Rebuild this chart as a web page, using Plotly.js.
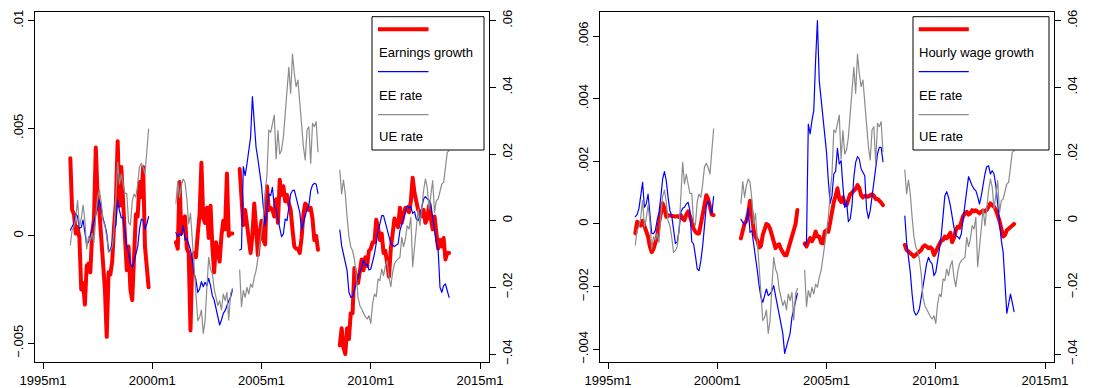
<!DOCTYPE html>
<html><head><meta charset="utf-8">
<script src="https://cdn.plot.ly/plotly-3.0.1.min.js"></script>
<style>html,body{margin:0;padding:0;background:#fff}#chart{width:1101px;height:388px}
#chart .scatterlayer .js-line{stroke-linejoin:round;stroke-linecap:round}</style>
</head><body><div id="chart"></div>
<script>
// ---- data (growth values in thousandths, rates in thousandths) ----
const segStarts = ["1996m4", "2001m2", "2004m1", "2008m8"];
const tickMonths = ["1995m1", "2000m1", "2005m1", "2010m1", "2015m1"];

// Left panel: earnings growth
const earnGrowth1 = [3.6,1.2,1.0,0.1,0.4,-0.1,-2.5,-2.2,-3.2,-1.4,-1.3,-1.7,0.1,0.8,4.1,1.8,1.1,0.0,-1.1,-2.5,-4.7,-1.7,-1.8,-1.2,0.4,1.5,4.4,1.4,3.2,1.3,-0.3,-1.6,-0.5,-2.5,-3.0,-0.5,1.0,0.9,2.5,1.8,3.2,-0.5,-1.5,-2.4];
const earnGrowth2 = [-0.3,-0.6,2.5,0.1,0.8,0.9,-0.6,-0.8,-4.4,-1.0,-0.8,-1.0,0.1,1.0,3.4,0.8,0.6,1.3,-0.1,1.4,-0.5,-1.7,-0.3,-0.7,-1.2,0.0,0.7,0.3,2.9,0.0,0.1,0.1];
const earnGrowth3 = [3.1,1.4,0.5,1.2,0.6,-0.2,-0.8,0.0,1.5,0.4,-0.9,0.1,0.7,-0.2,-0.4,2.3,1.2,1.3,1.2,0.9,1.7,0.6,2.6,1.9,2.3,1.6,1.9,1.5,1.2,0.3,-0.5,-0.6,-0.6,-0.8,-0.1,1.0,1.5,1.4,1.2,1.3,0.8,-0.2,0.0,-0.65];
const earnGrowth4 = [-5.1,-4.3,-5.2,-5.5,-4.3,-4.8,-3.6,-3.6,-1.5,-2.1,-2.2,-1.7,-1.1,-1.6,-1.0,-1.4,-0.7,-0.6,-0.3,-0.3,0.75,0.4,-0.2,0.1,-0.8,-0.7,-1.4,-1.9,-0.6,0.0,0.8,0.6,0.4,1.3,0.6,1.0,1.3,1.2,1.1,1.6,2.7,2.0,1.6,1.2,1.1,0.9,1.2,0.6,0.8,1.4,0.8,0.3,0.9,0.1,-0.6,-0.2,-0.5,-0.1,-1.1,-0.8,-0.8];

// Left panel: EE rate
const eeLeft1 = [-2.8,-2.0,-0.8,2.2,1.2,-2.3,-2.0,0.2,-4.5,-7.3,-6.3,-4.5,-2.5,-0.3,1.8,4.5,6.2,3.5,0.5,-1.2,-3.8,-9.0,-8.8,-6.8,-2.6,-1.5,6.2,3.0,0.8,1.0,-3.8,-7.7,-9.5,-13.0,-14.0,-11.5,-10.0,-7.8,-2.5,0.5,0.0,-2.5,-1.0,1.2];
const eeLeft2 = [-3.6,-4.8,-4.0,-4.5,-1.5,-5.8,-5.3,-6.8,-8.8,-11.8,-15.8,-17.8,-21.5,-20.5,-18.3,-19.8,-18.5,-19.5,-17.3,-19.5,-22.5,-23.8,-26.3,-29.5,-31.3,-29.8,-27.8,-27.0,-25.3,-24.0,-23.0,-20.8];
const eeLeft3 = [-8.8,-8.5,16.2,13.5,17.0,21.0,25.0,37.2,29.0,22.0,18.5,14.5,10.5,4.0,-1.5,3.0,8.0,7.5,10.0,4.2,3.5,0.5,-2.0,-4.8,-4.0,0.5,0.0,5.0,8.0,9.0,9.2,7.0,5.0,2.5,-2.8,-0.8,1.0,3.5,4.5,9.0,10.7,11.2,11.0,8.2];
const eeLeft4 = [-2.8,-7.5,-10.0,-12.5,-15.0,-21.5,-23.0,-22.8,-20.5,-19.0,-17.0,-15.5,-14.0,-11.8,-13.3,-13.0,-14.8,-14.5,-12.5,-10.0,-6.8,-2.8,-1.0,1.5,1.5,-0.5,-2.8,-4.8,-6.8,-7.3,-7.8,-7.3,-7.0,-3.0,-1.0,1.0,3.0,4.5,3.8,4.2,2.2,2.7,0.5,0.0,1.5,4.0,6.5,7.2,6.5,6.2,5.0,1.0,-3.5,-6.5,-8.8,-20.0,-21.5,-19.5,-19.0,-21.5,-23.0];

// UE rate (same in both panels)
const ueRate1 = [-7.3,-2.8,-1.8,1.0,6.0,-1.8,0.5,4.7,0.0,-8.5,-4.8,-5.8,-3.8,-6.5,1.5,7.2,9.2,5.5,0.0,-1.5,-5.0,-9.5,-9.0,-7.8,-3.0,6.0,17.5,11.0,14.0,11.0,8.2,8.2,-0.5,-1.3,5.8,8.0,7.0,11.0,16.2,17.2,16.0,14.0,20.0,27.5];
const ueRate2 = [5.2,11.7,7.0,10.5,12.5,11.5,6.5,-1.0,2.2,-6.0,-13.0,-22.0,-30.0,-29.0,-26.8,-33.8,-30.0,-20.0,-11.0,-14.5,-16.0,-20.5,-23.0,-25.5,-24.0,-26.8,-22.0,-24.0,-21.5,-29.8,-22.0,-20.3];
const ueRate3 = [-14.8,-25.8,-21.0,-23.0,-20.0,-22.0,-19.0,-20.0,-17.0,-15.0,-11.3,-7.0,-3.0,1.0,8.0,14.0,27.2,26.5,29.0,31.7,18.5,27.0,20.0,21.2,25.0,33.0,38.7,46.0,38.2,50.0,44.2,40.2,42.2,36.0,27.5,22.2,18.2,27.2,28.2,17.2,29.2,28.2,29.7,20.7];
const ueRate4 = [15.2,8.0,12.2,8.0,1.0,-4.8,-7.8,-9.0,-11.5,-16.0,-23.0,-25.5,-26.5,-27.8,-28.8,-29.5,-28.5,-30.8,-25.0,-22.0,-22.8,-17.5,-18.0,-14.5,-16.5,-13.5,-12.0,-17.0,-19.8,-15.5,-13.0,-12.0,-11.5,-11.0,-5.0,-7.8,-5.5,-1.5,-2.5,1.0,-13.8,-7.8,-1.0,3.5,-1.5,5.0,9.0,12.5,10.0,3.5,8.0,12.0,2.5,6.0,6.5,9.0,11.0,11.5,17.0,20.5,21.0];

// Right panel: hourly wage growth
const wageGrowth1 = [-0.30,0.07,0.0,-0.05,0.10,-0.07,-0.18,-0.40,-0.72,-0.90,-0.80,-0.55,-0.40,0.02,0.35,0.66,0.50,0.23,0.28,0.28,0.28,0.25,0.24,0.25,0.22,0.28,0.17,0.12,0.30,0.40,0.25,0.02,-0.14,-0.25,-0.30,-0.30,-0.05,0.30,0.60,0.92,0.80,0.55,0.30,0.28];
const wageGrowth2 = [-0.46,-0.15,0.02,0.10,0.35,0.74,0.20,-0.20,-0.40,-0.52,-0.75,-0.70,-0.35,-0.12,0.0,-0.03,-0.15,-0.35,-0.55,-0.77,-0.68,-0.65,-0.80,-0.90,-1.0,-1.0,-0.80,-0.55,-0.38,-0.25,0.0,0.45];
const wageGrowth3 = [-0.62,-0.72,-0.57,-0.45,-0.55,-0.45,-0.24,-0.40,-0.40,-0.60,-0.62,-0.25,-0.20,-0.25,0.05,0.45,0.70,0.90,1.14,0.80,0.70,0.85,0.65,0.60,0.80,0.95,1.00,1.05,1.12,1.24,1.15,0.92,0.85,0.90,0.87,0.87,0.92,0.95,0.90,0.80,0.80,0.75,0.68,0.60];
const wageGrowth4 = [-0.67,-0.83,-0.88,-0.92,-0.98,-1.04,-0.99,-0.94,-0.92,-0.83,-0.73,-0.68,-0.72,-0.77,-0.74,-0.80,-0.99,-0.88,-0.72,-0.60,-0.53,-0.51,-0.40,-0.46,-0.36,-0.28,-0.58,-0.45,-0.20,-0.09,-0.12,0.10,0.25,0.34,0.39,0.30,0.34,0.44,0.40,0.44,0.40,0.34,0.39,0.43,0.40,0.45,0.55,0.66,0.60,0.55,0.45,0.30,0.10,-0.15,-0.40,-0.35,-0.20,-0.15,-0.10,-0.05,0.0];

// Right panel: EE rate
const eeRight1 = [1.2,1.8,3.7,8.0,11.5,4.0,5.0,8.0,2.0,-3.8,-3.9,-3.0,0.2,2.5,7.0,12.5,14.7,12.0,7.0,3.0,1.5,-3.5,-6.8,-6.5,-3.0,2.5,3.7,4.0,5.0,5.5,3.0,-6.3,-7.0,-10.5,-14.5,-15.0,-12.0,-7.5,-2.0,4.5,6.0,4.5,2.0,7.2];
const eeRight2 = [0.4,-0.3,-1.3,-0.5,3.7,-3.5,-3.0,-7.0,-10.5,-15.0,-19.5,-23.0,-24.5,-22.0,-20.5,-22.5,-22.0,-21.0,-19.5,-22.5,-25.5,-28.0,-31.0,-33.8,-39.8,-38.0,-35.5,-33.8,-29.0,-26.5,-24.5,-21.8];
const eeRight3 = [-7.3,-6.5,29.0,26.0,30.0,33.0,48.0,60.0,42.0,36.5,31.7,26.5,20.5,12.0,5.2,7.5,14.0,14.8,21.7,17.0,18.0,10.5,4.0,5.7,-0.3,0.5,4.5,13.0,17.5,19.2,18.5,15.5,14.5,13.5,3.5,0.7,3.0,7.0,11.0,14.5,20.0,22.0,22.0,17.7];
const eeRight4 = [1.4,-6.5,-11.0,-15.5,-22.0,-27.0,-28.3,-27.8,-26.5,-23.0,-18.5,-15.5,-12.8,-11.0,-12.3,-13.0,-16.5,-15.5,-12.5,-8.5,-4.5,3.0,7.5,8.7,7.0,4.5,1.0,-2.0,-4.5,-4.8,-5.5,-4.0,0.5,5.5,9.0,13.2,11.5,10.5,9.5,9.0,7.2,5.0,7.5,11.0,14.0,16.2,16.5,14.0,15.0,14.0,10.5,5.0,-1.0,-6.0,-9.5,-20.0,-27.8,-25.0,-22.0,-24.5,-27.3];

const labelsLeft = ["Earnings growth", "EE rate", "UE rate"];
const labelsRight = ["Hourly wage growth", "EE rate", "UE rate"];

// ---- helpers ----
function monthToYear(s) { const p = s.split("m").map(Number); return p[0] + (p[1] - 1) / 12; }
function series(segs) {
  const x = [], y = [];
  segs.forEach((arr, i) => {
    const x0 = monthToYear(segStarts[i]);
    arr.forEach((v, j) => { x.push(x0 + j / 12); y.push(v / 1000); });
    if (i < segs.length - 1) { x.push(x0 + arr.length / 12); y.push(null); }
  });
  return { x, y };
}
function fmt(v) {
  if (v === 0) return "0";
  const s = String(Math.abs(v)).replace(/^0/, "");
  return (v < 0 ? "\u2212" : "") + s;
}

const W = 1101, H = 388;
const RED = "#ff0000", BLUE = "#0000ff", GRAY = "#8c8c8c";
const font = { family: "Liberation Sans, Arial, sans-serif", size: 13, color: "#000" };

const earn = series([earnGrowth1, earnGrowth2, earnGrowth3, earnGrowth4]);
const eeL = series([eeLeft1, eeLeft2, eeLeft3, eeLeft4]);
const ue = series([ueRate1, ueRate2, ueRate3, ueRate4]);
const wage = series([wageGrowth1, wageGrowth2, wageGrowth3, wageGrowth4]);
const eeR = series([eeRight1, eeRight2, eeRight3, eeRight4]);

function tr(s, xa, ya, color, width) {
  return { x: s.x, y: s.y, xaxis: xa, yaxis: ya, type: "scatter", mode: "lines",
    line: { color: color, width: width }, connectgaps: false, hoverinfo: "skip" };
}
const data = [
  tr(earn, "x", "y", RED, 4),
  tr(eeL, "x", "y2", BLUE, 1.2),
  tr(ue, "x", "y2", GRAY, 1.2),
  tr(wage, "x2", "y3", RED, 4),
  tr(eeR, "x2", "y4", BLUE, 1.2),
  tr(ue, "x2", "y4", GRAY, 1.2)
];

const tickYears = tickMonths.map(monthToYear);
const ydom = [1 - 362 / H, 1 - 12 / H];
const axBase = { showgrid: false, zeroline: false, showline: true, linecolor: "#000", linewidth: 1,
  ticks: "outside", ticklen: 6, tickwidth: 1, tickcolor: "#000", tickfont: font, fixedrange: true };
const rateTicks = [-0.04, -0.02, 0, 0.02, 0.04, 0.06];
const rateRange = [-0.0424, 0.0626];
const xRange = [1994.634, 2015.41];

function xAxis(dom, anchor) {
  return Object.assign({}, axBase, { domain: dom, range: xRange, anchor: anchor, mirror: true,
    tickvals: tickYears, ticktext: tickMonths });
}
function yAxis(extra, ticks) {
  return Object.assign({}, axBase, { tickvals: ticks, ticktext: ticks.map(fmt), tickangle: -90 }, extra);
}
const leftTicks = [-0.005, 0, 0.005, 0.01];
const wageTicks = [-0.004, -0.002, 0, 0.002, 0.004, 0.006];

const shapes = [], annotations = [];
function px(x) { return x / W; }
function py(y) { return 1 - y / H; }
function legend(x0, x1, lx0, lx1, labels) {
  shapes.push({ type: "rect", xref: "paper", yref: "paper", x0: px(x0), x1: px(x1), y0: py(150), y1: py(16.7),
    line: { color: "#000", width: 1 }, fillcolor: "#fff", layer: "above" });
  const cols = [RED, BLUE, GRAY], widths = [4, 1.3, 1.3], lineY = [29.3, 71.7, 114.7], textY = [52.3, 95, 136.7];
  for (let i = 0; i < 3; i++) {
    shapes.push({ type: "line", xref: "paper", yref: "paper", x0: px(lx0), x1: px(lx1), y0: py(lineY[i]), y1: py(lineY[i]),
      line: { color: cols[i], width: widths[i] }, layer: "above" });
    annotations.push({ xref: "paper", yref: "paper", x: px(lx0 - 1.5), y: py(textY[i]), xanchor: "left", yanchor: "middle",
      text: labels[i], showarrow: false, font: font });
  }
}
legend(372, 484, 378, 428.5, labelsLeft);
legend(913, 1049, 918.7, 968.8, labelsRight);

const layout = {
  width: W, height: H, margin: { l: 0, r: 0, t: 0, b: 0 }, paper_bgcolor: "#fff", plot_bgcolor: "#fff",
  showlegend: false, hovermode: false, font: font,
  xaxis: xAxis([35 / W, 489 / W], "y"),
  yaxis: yAxis({ domain: ydom, range: [-0.00587, 0.010405], anchor: "x", side: "left" }, leftTicks),
  yaxis2: yAxis({ range: rateRange, anchor: "x", overlaying: "y", side: "right" }, rateTicks),
  xaxis2: xAxis([600 / W, 1054 / W], "y3"),
  yaxis3: yAxis({ domain: ydom, range: [-0.004405, 0.006766], anchor: "x2", side: "left" }, wageTicks),
  yaxis4: yAxis({ range: rateRange, anchor: "x2", overlaying: "y3", side: "right" }, rateTicks),
  shapes: shapes, annotations: annotations
};
Plotly.newPlot("chart", data, layout, { staticPlot: true, displayModeBar: false });
</script></body></html>
